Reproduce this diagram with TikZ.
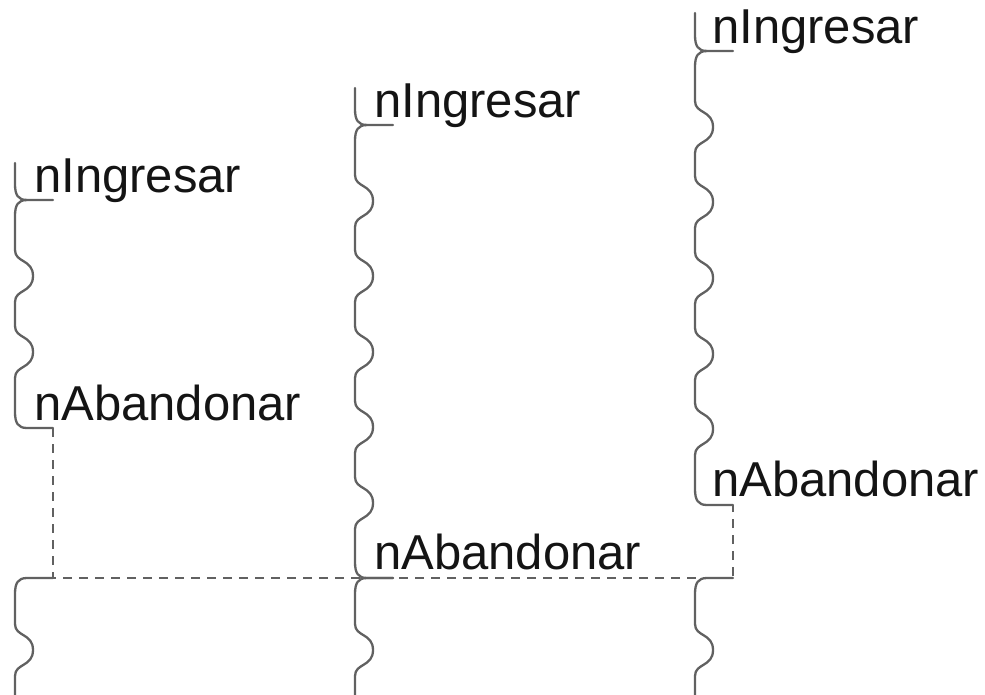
\documentclass[tikz,border=0pt]{standalone}
\usepackage{fontspec}
\setmainfont{Liberation Sans}
\tikzset{
  wave/.style={draw=black!62, line width=2.3pt, line join=round, line cap=round},
  dashln/.style={draw=black!62, line width=2pt, dash pattern=on 9pt off 7pt},
  lbl/.style={anchor=base west, inner sep=0pt, font=\fontsize{49}{59}\selectfont, text=black!92}
}
% x0, yA (upper tick), yB (lower tick), list of bumps
\newcommand\colwave[4]{%
  \draw[wave] (#1+12,#2) .. controls (#1+3,#2) and (#1,#2+5) .. (#1,#2+16)
    \foreach \b in {#4} { -- (#1,\b-26) .. controls (#1,\b-13) and (#1+18,\b-17) .. (#1+18,\b)
       .. controls (#1+18,\b+17) and (#1,\b+13) .. (#1,\b+26) }
    -- (#1,#3-16) .. controls (#1,#3-5) and (#1+3,#3) .. (#1+12,#3) -- (#1+38,#3);}
% x0, ystart, ytick
\newcommand\coltop[3]{%
  \draw[wave] (#1,#2) -- (#1,#3-16) .. controls (#1,#3-5) and (#1+3,#3) .. (#1+12,#3) -- (#1+38,#3);}
% x0 : tail below the common line
\newcommand\coltail[1]{%
  \draw[wave] (#1+38,578) -- (#1+12,578) .. controls (#1+3,578) and (#1,583) .. (#1,594)
    -- (#1,624) .. controls (#1,637) and (#1+18,633) .. (#1+18,650)
    .. controls (#1+18,667) and (#1,663) .. (#1,676) -- (#1,710);}
\begin{document}
\begin{tikzpicture}[x=1pt,y=-1pt]
  \useasboundingbox (0,0) rectangle (985,694);
  \clip (0,0) rectangle (985,694);

  % left column
  \coltop{15}{163}{200}
  \colwave{15}{200}{428}{276,352}
  \coltail{15}
  % middle column
  \coltop{355}{88}{125}
  \colwave{355}{125}{578}{201,276,352,427,503}
  \coltail{355}
  % right column
  \coltop{695}{13}{51}
  \colwave{695}{51}{505}{127,202,278,354,429}
  \coltail{695}

  % labels
  \node[lbl] (Lin) at (34,192) {nIngresar};
  \node[lbl] (Lab) at (34,420) {nAbandonar};
  \node[lbl] (Min) at (374,117) {nIngresar};
  \node[lbl] (Mab) at (374,569) {nAbandonar};
  \node[lbl] (Rin) at (712,43) {nIngresar};
  \node[lbl] (Rab) at (712,496) {nAbandonar};

  % dashed connectors
  \coordinate (Lend) at (53,428);
  \coordinate (Lbot) at (53,578);
  \coordinate (Rbot) at (733,578);
  \coordinate (Rend) at (733,505);
  \draw[dashln] (Lend) -- (Lbot) -- (Rbot) -- (Rend);
\end{tikzpicture}
\end{document}
